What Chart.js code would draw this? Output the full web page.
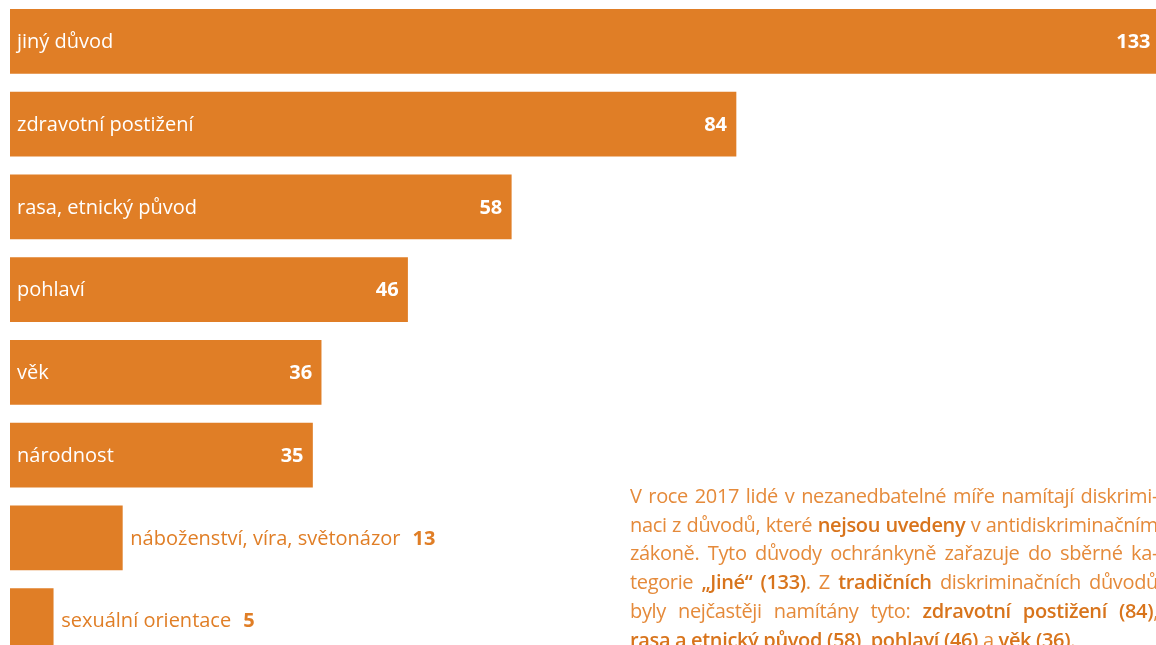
<!DOCTYPE html>
<html lang="cs">
<head>
<meta charset="utf-8">
<script src="https://cdn.jsdelivr.net/npm/chart.js@4.4.1/dist/chart.umd.min.js"></script>
<style>
    html, body { margin: 0; padding: 0; background: #fff; overflow: hidden; width: 1156px; height: 645px; }
    #wrap { position: absolute; left: 0; top: 0; width: 1220px; height: 662px; }
    #note {
        position: absolute; left: 630px; top: 482px; width: 528px;
        font-family: "Open Sans", sans-serif; font-size: 20px; line-height: 28.7px;
        letter-spacing: -0.35px;
        color: #e58a3a; white-space: nowrap;
    }
    #note div { text-align: justify; text-align-last: justify; }
    #note div.last { text-align-last: left; }
    #note b { font-weight: 600; color: #d8741c; }
</style>
</head>
<body>
<div id="wrap"><canvas id="chart"></canvas></div>
<div id="note">
    <div>V roce 2017 lidé v nezanedbatelné míře namítají diskrimi-</div>
    <div>naci z důvodů, které <b>nejsou uvedeny</b> v antidiskriminačním</div>
    <div>zákoně. Tyto důvody ochránkyně zařazuje do sběrné ka-</div>
    <div>tegorie <b>„Jiné“ (133)</b>. Z <b>tradičních</b> diskriminačních důvodů</div>
    <div>byly nejčastěji namítány tyto: <b>zdravotní postižení (84)</b>,</div>
    <div class="last"><b>rasa a etnický původ (58)</b>, <b>pohlaví (46)</b> a <b>věk (36)</b>.</div>
</div>
<script>
const categories = [
    "jiný důvod",
    "zdravotní postižení",
    "rasa, etnický původ",
    "pohlaví",
    "věk",
    "národnost",
    "náboženství, víra, světonázor",
    "sexuální orientace"
];
const counts = [133, 84, 58, 46, 36, 35, 13, 5];

const barColor = "#e07e26";
const labelFont = '20px "Open Sans", sans-serif';
const valueFont = '700 20px "Open Sans", sans-serif';

// popisky do sloupců (nebo za ně, když se nevejdou)
const barLabels = {
    id: "barLabels",
    afterDatasetsDraw(chart) {
        const ctx = chart.ctx;
        const meta = chart.getDatasetMeta(0);
        ctx.save();
        ctx.textBaseline = "middle";
        meta.data.forEach((bar, i) => {
            const name = categories[i];
            const val = String(counts[i]);
            ctx.font = labelFont;
            const nameW = ctx.measureText(name).width;
            ctx.font = valueFont;
            const valW = ctx.measureText(val).width;
            const barW = bar.x - bar.base;
            const y = bar.y + 1;
            if (nameW + valW + 40 < barW) {
                ctx.fillStyle = "#fff";
                ctx.font = labelFont;
                ctx.textAlign = "left";
                ctx.fillText(name, bar.base + 7, y);
                ctx.font = valueFont;
                ctx.textAlign = "right";
                ctx.fillText(val, Math.min(bar.x, 1160) - 9, y);
            } else {
                ctx.fillStyle = barColor;
                ctx.font = labelFont;
                ctx.textAlign = "left";
                ctx.fillText(name, bar.x + 8, y);
                ctx.font = valueFont;
                ctx.fillText(val, bar.x + 8 + nameW + 12, y);
            }
        });
        ctx.restore();
    }
};

new Chart(document.getElementById("chart"), {
    type: "bar",
    data: {
        labels: categories,
        datasets: [{
            data: counts,
            backgroundColor: barColor,
            borderWidth: 0,
            barThickness: 64
        }]
    },
    options: {
        indexAxis: "y",
        responsive: true,
        maintainAspectRatio: false,
        animation: false,
        layout: { padding: { left: 10, right: 0, top: 0, bottom: 0 } },
        scales: {
            x: { display: false, min: 0, max: 140 },
            y: { display: false }
        },
        plugins: {
            legend: { display: false },
            tooltip: { enabled: false }
        }
    },
    plugins: [barLabels]
});
</script>
</body>
</html>
